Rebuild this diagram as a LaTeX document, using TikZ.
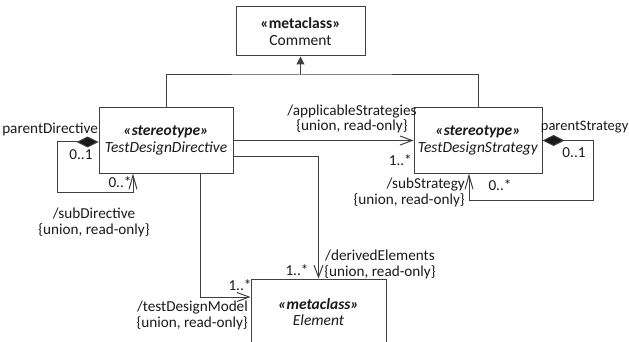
\documentclass[tikz,border=0pt]{standalone}
\usepackage{fontspec}
\setmainfont{Carlito}
\usetikzlibrary{arrows.meta,positioning}
\definecolor{ink}{HTML}{1A1A1A}
\definecolor{wire}{HTML}{404040}

\begin{document}
\begin{tikzpicture}[x=1pt,y=-1pt,font=\fontsize{15.2}{15.5}\selectfont,
  cls/.style={draw=wire,line width=1pt,fill=white,align=center,inner sep=0pt,text=ink,font=\fontsize{15.5}{16.5}\selectfont},
  lbl/.style={text=ink,inner sep=0pt,align=center},
  assoc/.style={-{Straight Barb[length=12pt,width=9pt]},draw=wire,line width=1pt},
  comp/.style={{Diamond[length=22pt,width=11pt,fill=ink]}-{Straight Barb[length=14pt,width=8pt]},draw=wire,line width=1pt},
  gen/.style={-{Triangle[length=8pt,width=8pt]},draw=wire,line width=1pt}]
\clip (0,0) rectangle (629,342);
% classes
\node[cls,minimum width=129pt,minimum height=49pt] (comment) at (300.5,31.5) {\textbf{«metaclass»}\\Comment};
\node[cls,minimum width=134pt,minimum height=65pt] (directive) at (166,140.5) {\textbf{\textit{«stereotype»}}\\\textit{TestDesignDirective}};
\node[cls,minimum width=128pt,minimum height=65pt] (strategy) at (478,140.5) {\textbf{\textit{«stereotype»}}\\\textit{TestDesignStrategy}};
\node[cls,minimum width=135pt,minimum height=66pt] (element) at (318.5,312) {\textbf{\textit{«metaclass»}}\\\textit{Element}};
% generalization
\coordinate (hub) at (300.5,75);
\draw[draw=wire,line width=1pt] (directive.north) |- (hub) -| (strategy.north);
\draw[gen] (hub) -- (comment.south);
% associations
\draw[assoc] (directive.east) -- (strategy.west);
\draw[assoc] ([yshift=-16pt]directive.east) -| (element.north);
\draw[assoc] ([xshift=34pt]directive.south) |- ([yshift=15pt]element.west);
% self loops
\coordinate (dloop) at (57,192);
\draw[comp] ([yshift=-1.5pt]directive.west) -| (dloop) -| ([xshift=-33pt]directive.south);
\coordinate (sloop) at (593,200);
\draw[comp] (strategy.east) -| (sloop) -| ([xshift=-9pt]strategy.south);
% labels
\node[lbl,anchor=east] (pdir) at (98,129) {parentDirective};
\node[lbl] (pdirm) at (81,155) {0..1};
\node[lbl] (sdirm) at (120,182) {0..*};
\node[lbl] (sdir) at (94,222.5) {/subDirective\\\{union, read-only\}};
\node[lbl] (appl) at (352,119) {/applicableStrategies\\\{union, read-only\}};
\node[lbl,anchor=east] (applm) at (412,160) {1..*};
\node[lbl,anchor=east,font=\fontsize{14.5}{15}\selectfont] (pstr) at (628.5,127) {parentStrategy};
\node[lbl] (pstrm) at (574,153) {0..1};
\node[lbl] (sstrm) at (500,185) {0..*};
\node[lbl,anchor=east,align=right] (sstr) at (465,192.5) {/subStrategy\\\{union, read-only\}};
\node[lbl] (der) at (380,264.5) {/derivedElements\\\{union, read-only\}};
\node[lbl] (derm) at (297,270) {1..*};
\node[lbl] (tdmm) at (240,285) {1..*};
\node[lbl,anchor=east,align=right] (tdm) at (248,315.5) {/testDesignModel\\\{union, read-only\}};
\end{tikzpicture}
\end{document}
